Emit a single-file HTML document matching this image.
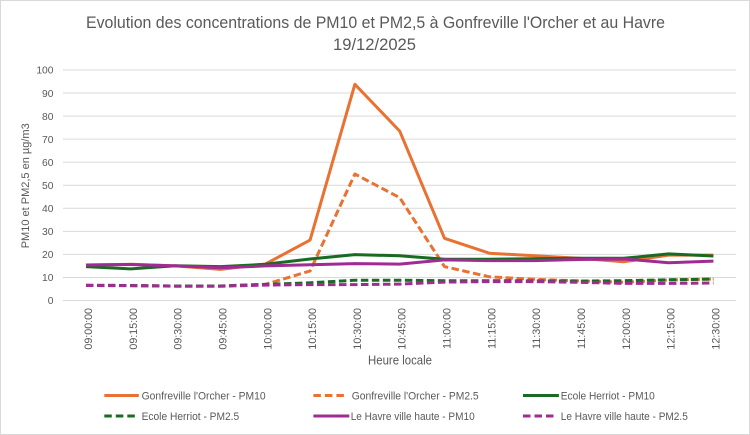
<!DOCTYPE html>
<html><head><meta charset="utf-8"><style>
html,body{margin:0;padding:0;background:#fff}
svg{display:block}
text{font-family:"Liberation Sans",Arial,sans-serif;fill:#595959}
</style></head><body>
<svg width="750" height="435" viewBox="0 0 750 435" xmlns="http://www.w3.org/2000/svg">
<rect x="0.5" y="0.5" width="749" height="434" fill="#fff" stroke="#d9d9d9" stroke-width="1"/>
<text x="375.5" y="28" font-size="17" text-anchor="middle" textLength="579" lengthAdjust="spacingAndGlyphs">Evolution des concentrations de PM10 et PM2,5 à Gonfreville l'Orcher et au Havre</text>
<text x="374.5" y="50" font-size="17" text-anchor="middle" textLength="83" lengthAdjust="spacingAndGlyphs">19/12/2025</text>
<g stroke="#d9d9d9" stroke-width="1">
<line x1="63" x2="736" y1="300.5" y2="300.5"/>
<line x1="63" x2="736" y1="277.45" y2="277.45"/>
<line x1="63" x2="736" y1="254.4" y2="254.4"/>
<line x1="63" x2="736" y1="231.35" y2="231.35"/>
<line x1="63" x2="736" y1="208.3" y2="208.3"/>
<line x1="63" x2="736" y1="185.25" y2="185.25"/>
<line x1="63" x2="736" y1="162.2" y2="162.2"/>
<line x1="63" x2="736" y1="139.15" y2="139.15"/>
<line x1="63" x2="736" y1="116.1" y2="116.1"/>
<line x1="63" x2="736" y1="93.05" y2="93.05"/>
<line x1="63" x2="736" y1="70" y2="70"/>
</g>
<g font-size="10.3" text-anchor="end">
<text x="53.5" y="304.2">0</text>
<text x="53.5" y="281.2">10</text>
<text x="53.5" y="258.1">20</text>
<text x="53.5" y="235">30</text>
<text x="53.5" y="212">40</text>
<text x="53.5" y="189">50</text>
<text x="53.5" y="165.9">60</text>
<text x="53.5" y="142.9">70</text>
<text x="53.5" y="119.8">80</text>
<text x="53.5" y="96.8">90</text>
<text x="53.5" y="73.7">100</text>
</g>
<text transform="translate(29,185.8) rotate(-90)" font-size="11" text-anchor="middle" textLength="125" lengthAdjust="spacingAndGlyphs">PM10 et PM2,5 en µg/m3</text>
<g font-size="10.7" text-anchor="end">
<text transform="translate(92,308) rotate(-90)">09:00:00</text>
<text transform="translate(136.8,308) rotate(-90)">09:15:00</text>
<text transform="translate(181.6,308) rotate(-90)">09:30:00</text>
<text transform="translate(226.4,308) rotate(-90)">09:45:00</text>
<text transform="translate(271.3,308) rotate(-90)">10:00:00</text>
<text transform="translate(316.1,308) rotate(-90)">10:15:00</text>
<text transform="translate(360.9,308) rotate(-90)">10:30:00</text>
<text transform="translate(405.7,308) rotate(-90)">10:45:00</text>
<text transform="translate(450.5,308) rotate(-90)">11:00:00</text>
<text transform="translate(495.3,308) rotate(-90)">11:15:00</text>
<text transform="translate(540.1,308) rotate(-90)">11:30:00</text>
<text transform="translate(585,308) rotate(-90)">11:45:00</text>
<text transform="translate(629.8,308) rotate(-90)">12:00:00</text>
<text transform="translate(674.6,308) rotate(-90)">12:15:00</text>
<text transform="translate(719.4,308) rotate(-90)">12:30:00</text>
</g>
<text x="400" y="364.5" font-size="12.5" text-anchor="middle" textLength="64" lengthAdjust="spacingAndGlyphs">Heure locale</text>
<g fill="none" stroke-width="3" stroke-linejoin="round">
<polyline stroke="#E97132" points="86,265 130.81,264.3 175.63,265.9 220.44,269.4 265.26,264.1 310.07,240.1 354.89,84.3 399.7,131.1 444.51,238.3 489.33,253.2 534.14,255.8 578.96,258.3 623.77,261.8 668.59,255.1 713.4,255.1"/>
<polyline stroke="#E97132" stroke-dasharray="7.5 3.5" points="86,285.3 130.81,285.5 175.63,286 220.44,286 265.26,284.4 310.07,271 354.89,174 399.7,197.7 444.51,266.6 489.33,276.8 534.14,279.3 578.96,280.9 623.77,282.3 668.59,280 713.4,279.1"/>
<polyline stroke="#196B24" points="86,266.6 130.81,268.9 175.63,265.7 220.44,266.6 265.26,264.3 310.07,259 354.89,254.6 399.7,255.8 444.51,259.2 489.33,259.2 534.14,258.8 578.96,258.3 623.77,258.3 668.59,253.9 713.4,256"/>
<polyline stroke="#196B24" stroke-dasharray="7.5 3.5" points="86,285.3 130.81,285.5 175.63,286 220.44,286 265.26,284.4 310.07,282.8 354.89,280.2 399.7,280.2 444.51,280.7 489.33,280.7 534.14,280.9 578.96,281.1 623.77,280.7 668.59,279.8 713.4,279.1"/>
<polyline stroke="#A02B93" points="86,265 130.81,264.5 175.63,265.9 220.44,267.8 265.26,265.9 310.07,264.8 354.89,263.6 399.7,264.1 444.51,259.9 489.33,260.6 534.14,260.6 578.96,259.5 623.77,259 668.59,262.7 713.4,261.1"/>
<polyline stroke="#A02B93" stroke-dasharray="7.5 3.5" points="86,285.5 130.81,285.7 175.63,286.2 220.44,286.2 265.26,285.1 310.07,284.6 354.89,284.6 399.7,284.1 444.51,282.1 489.33,281.6 534.14,281.6 578.96,282.3 623.77,283.4 668.59,283.4 713.4,283"/>
</g>
<g stroke-width="3" fill="none">
<line x1="104.3" x2="138.8" y1="395.5" y2="395.5" stroke="#E97132"/>
<line x1="313.4" x2="344.5" y1="395.5" y2="395.5" stroke="#E97132" stroke-dasharray="7.5 4"/>
<line x1="523" x2="558.9" y1="395.5" y2="395.5" stroke="#196B24"/>
<line x1="104.3" x2="136" y1="416" y2="416" stroke="#196B24" stroke-dasharray="7.5 4"/>
<line x1="313.4" x2="349.3" y1="416" y2="416" stroke="#A02B93"/>
<line x1="523" x2="555" y1="416" y2="416" stroke="#A02B93" stroke-dasharray="7.5 4"/>
</g>
<g font-size="11">
<text x="141.6" y="399.5" textLength="124" lengthAdjust="spacingAndGlyphs">Gonfreville l'Orcher - PM10</text>
<text x="351.7" y="399.5" textLength="127" lengthAdjust="spacingAndGlyphs">Gonfreville l'Orcher - PM2.5</text>
<text x="560.8" y="399.5" textLength="94" lengthAdjust="spacingAndGlyphs">Ecole Herriot - PM10</text>
<text x="141.6" y="420" textLength="97.6" lengthAdjust="spacingAndGlyphs">Ecole Herriot - PM2.5</text>
<text x="350.7" y="420" textLength="124" lengthAdjust="spacingAndGlyphs">Le Havre ville haute - PM10</text>
<text x="560.8" y="420" textLength="127" lengthAdjust="spacingAndGlyphs">Le Havre ville haute - PM2.5</text>
</g>
</svg>
</body></html>
